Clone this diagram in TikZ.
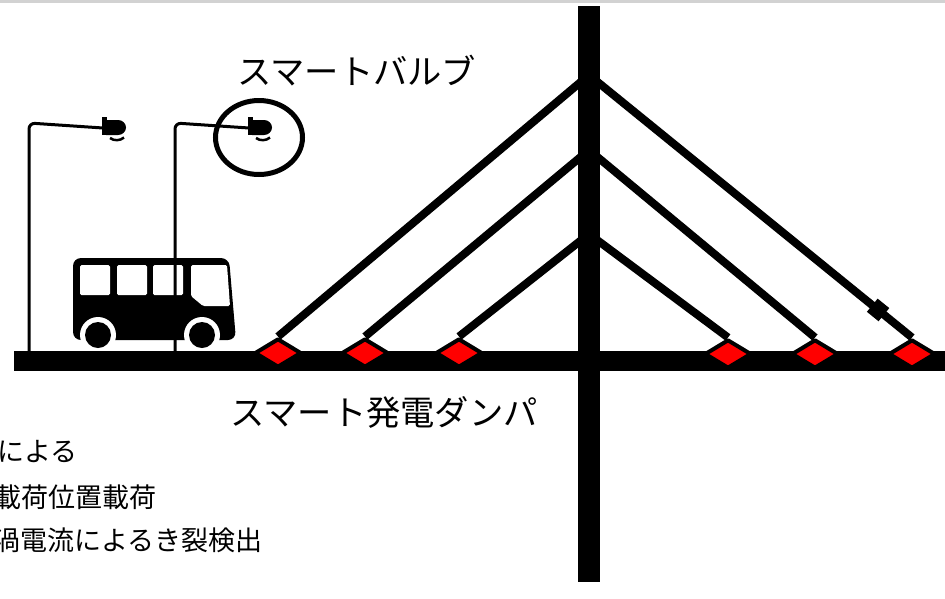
\documentclass[tikz,border=0pt]{standalone}
\usepackage{fontspec}
\setmainfont{Noto Sans CJK JP}
\usetikzlibrary{shapes.geometric}

\begin{document}
\begin{tikzpicture}[
  x=1pt, y=-1pt,
  cable/.style={line width=8pt, draw=black},
  damper/.style={
    diamond, draw=black, fill=red, line width=4pt, line join=round,
    minimum width=47pt, minimum height=29pt, inner sep=0pt
  },
  damperbox/.style={fill=black, minimum width=15pt, minimum height=17pt, inner sep=0pt},
  pole/.style={line width=3pt, rounded corners=6pt},
  pane/.style={fill=white, rounded corners=1.5pt},
  bigtext/.style={font=\fontsize{34.3}{40}\selectfont, anchor=west, inner sep=0pt},
  notetext/.style={font=\fontsize{27}{32}\selectfont, anchor=west, inner sep=0pt}
]
  \useasboundingbox (0,0) rectangle (945,598);
  \clip (0,0) rectangle (945,598);
  \fill[white] (0,0) rectangle (945,598);
  \fill[gray!35] (0,0) rectangle (945,2.5);

  % bus
  \fill[rounded corners=8pt] (73,258) -- (229,258) -- (236,340) -- (73,340) -- cycle;
  \fill[pane] (80,265) rectangle (110,295);
  \fill[pane] (117,265) rectangle (147,295);
  \fill[pane] (153,265) rectangle (183,295);
  \fill[pane] (191,265) -- (227,265) -- (230,306) -- (203,306) -- (191,296) -- cycle;
  \fill[white] (98,335) circle[radius=18];
  \fill[white] (202,335) circle[radius=18];
  \fill (98,335) circle[radius=13];
  \fill (202,335) circle[radius=13];

  % street lamps
  \draw[pole] (29,351) -- (29,123) -- (103,128);
  \fill (102,117) rectangle (107,135);
  \fill (106,120) -- (118,120) arc[start angle=-90, end angle=90, x radius=8, y radius=7.5] -- (106,135) -- cycle;
  \draw[line width=2.5pt] (110,138) .. controls (114,141) and (120,141) .. (124,137.5);
  \begin{scope}[xshift=146pt]
    \draw[pole] (29,351) -- (29,123) -- (103,128);
    \fill (102,117) rectangle (107,135);
    \fill (106,120) -- (118,120) arc[start angle=-90, end angle=90, x radius=8, y radius=7.5] -- (106,135) -- cycle;
    \draw[line width=2.5pt] (110,138) .. controls (114,141) and (120,141) .. (124,137.5);
  \end{scope}
  \node[draw, ellipse, line width=5pt, minimum width=87pt, minimum height=74pt] (bulbring) at (259,137.5) {};

  % deck and tower
  \fill (14,351) rectangle (945,371);
  \fill (578,6) rectangle (600,582);

  \coordinate (tt) at (589,75);
  \coordinate (tm) at (589,150);
  \coordinate (tb) at (589,234);

  \node[damper] (dl1) at (278,353) {};
  \node[damper] (dl2) at (365,353) {};
  \node[damper] (dl3) at (459,353) {};
  \node[damper] (dr1) at (728,354) {};
  \node[damper] (dr2) at (815,354) {};
  \node[damper] (dr3) at (912,354) {};

  \draw[cable] (tt) -- (dl1.north);
  \draw[cable] (tm) -- (dl2.north);
  \draw[cable] (tb) -- (dl3.north);
  \draw[cable] (tb) -- (dr1.north);
  \draw[cable] (tm) -- (dr2.north);
  \draw[cable] (tt) -- node[damperbox, sloped, pos=0.895] (box) {} (dr3.north);

  % labels
  \node[bigtext] (bulbtxt) at (237,71) {スマートバルブ};
  \node[bigtext] (dampertxt) at (230,412) {スマート発電ダンパ};
  \node[notetext] (n1) at (-3,452) {による};
  \node[notetext] (n2) at (-6,497) {載荷位置載荷};
  \node[notetext] (n3) at (-7,540) {渦電流によるき裂検出};
\end{tikzpicture}
\end{document}
